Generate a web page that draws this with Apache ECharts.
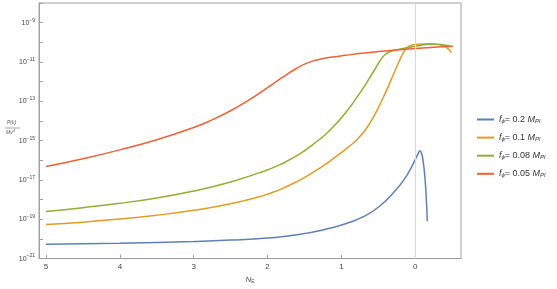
<!DOCTYPE html>
<html><head><meta charset="utf-8">
<script src="https://cdn.jsdelivr.net/npm/echarts@6/dist/echarts.min.js"></script>
<style>html,body{margin:0;padding:0;background:#fff}#c{width:557px;height:289px}</style>
</head><body><div id="c"></div>
<script>
// N_E values and P(k)/M^4 values
const blueN = [5.0, 4.0, 3.0, 2.5, 2.0, 1.6, 1.156, 0.925, 0.709, 0.478, 0.248, 0.14, 0.072, 0.004, -0.043, -0.064, -0.084, -0.104, -0.131, -0.152, -0.163];
const blueP = [5.37e-21, 6.03e-21, 7.41e-21, 8.71e-21, 1.12e-20, 1.62e-20, 3.49e-20, 6.27e-20, 1.32e-19, 4.73e-19, 3.54e-18, 1.2e-17, 3.16e-17, 1.01e-16, 2.34e-16, 3.02e-16, 2.37e-16, 1.12e-16, 1.41e-17, 7.94e-19, 7.94e-20];
const orangeN = [5.0, 4.5, 4.0, 3.5, 3.0, 2.5, 2.06, 1.833, 1.607, 1.386, 1.156, 0.953, 0.85, 0.75, 0.65, 0.56, 0.478, 0.41, 0.343, 0.275, 0.207, 0.16, 0.12, 0.08, 0.004, -0.2, -0.335, -0.425, -0.493];
const orangeP = [5.43e-20, 7.16e-20, 1.035e-19, 1.6e-19, 2.85e-19, 6.1e-19, 1.6e-18, 3.24e-18, 8.04e-18, 2.4e-17, 9.0e-17, 3.42e-16, 6.97e-16, 1.6e-15, 4.79e-15, 1.73e-14, 6.87e-14, 2.4e-13, 8.9e-13, 3.48e-12, 1.32e-11, 2.96e-11, 4.92e-11, 6.49e-11, 7.73e-11, 8.51e-11, 7.5e-11, 5.43e-11, 3.05e-11];
const greenN = [5.0, 4.5, 4.0, 3.5, 3.0, 2.5, 2.06, 1.833, 1.607, 1.386, 1.156, 0.93, 0.705, 0.569, 0.478, 0.411, 0.343, 0.252, -0.019, -0.2, -0.348, -0.493];
const greenP = [2.51e-19, 3.89e-19, 6.46e-19, 1.22e-18, 2.72e-18, 7.94e-18, 2.69e-17, 6.03e-17, 1.66e-16, 6.24e-16, 3.39e-15, 3.02e-14, 4.68e-13, 3.09e-12, 1.12e-11, 2.34e-11, 3.31e-11, 4.17e-11, 6.46e-11, 7.94e-11, 7.67e-11, 6.1e-11];
const redN = [5.0, 4.5, 4.0, 3.5, 3.0, 2.75, 2.5, 2.25, 2.0, 1.8, 1.6, 1.45, 1.3, 1.15, 0.95, 0.7, 0.25, -0.2, -0.51];
const redP = [4.79e-17, 1.2e-16, 3.39e-16, 1.11e-15, 4.68e-15, 1.14e-14, 3.31e-14, 1.17e-13, 4.95e-13, 1.64e-12, 4.95e-12, 9.23e-12, 1.35e-11, 1.72e-11, 2.18e-11, 2.83e-11, 4.11e-11, 5.5e-11, 6.34e-11];
const seriesNames = ['0.2', '0.1', '0.08', '0.05'];
const yTicks = [1e-21,1e-20,1e-19,1e-18,1e-17,1e-16,1e-15,1e-14,1e-13,1e-12,1e-11,1e-10,1e-9,1e-8];
const yLabels = [1e-21,1e-19,1e-17,1e-15,1e-13,1e-11,1e-9];

const colors = ['#5E81B5', '#E19C24', '#8FB032', '#EB6235'];
const zip = (a, b) => a.map((v, i) => [v, b[i]]);
const sets = [[blueN, blueP], [orangeN, orangeP], [greenN, greenP], [redN, redP]];
const FONT = 'Liberation Sans';

const chart = echarts.init(document.getElementById('c'), null, {renderer: 'canvas'});
chart.setOption({
  animation: false,
  backgroundColor: '#fff',
  grid: {left: 39, right: 96, top: 3, bottom: 26, show: true, borderColor: '#a0a0a0', borderWidth: 1},
  xAxis: {
    type: 'value', inverse: true, min: -0.62, max: 5.095, splitNumber: 5,
    name: '{i|N}{s|E}', nameLocation: 'middle', nameGap: 13,
    nameTextStyle: {rich: {i: {fontFamily: FONT, fontStyle: 'italic', fontSize: 8, color: '#555'}, s: {fontFamily: FONT, fontSize: 5, color: '#555', padding: [4, 0, 0, 0]}}},
    axisLine: {show: true, onZero: false, lineStyle: {color: '#a0a0a0'}},
    axisTick: {show: true, inside: true, length: 4, lineStyle: {color: '#a0a0a0'}},
    axisLabel: {showMinLabel: false, showMaxLabel: false, fontFamily: FONT, fontSize: 8, color: '#444', margin: 4},
    splitLine: {show: false}
  },
  yAxis: {
    type: 'log', logBase: 10, min: 1e-21, max: 1e-8,
    axisLine: {show: true, onZero: false, lineStyle: {color: '#a0a0a0'}},
    axisTick: {show: true, inside: true, length: 4, lineStyle: {color: '#a0a0a0'}, customValues: yTicks},
    axisLabel: {
      customValues: yLabels, margin: 4,
      formatter: v => '{b|10}{s|' + '\u2212' + Math.round(-Math.log10(v)) + '}',
      rich: {b: {fontFamily: FONT, fontSize: 7, color: '#444'}, s: {fontFamily: FONT, fontSize: 5, color: '#444', padding: [0, 0, 5, 0]}}
    },
    splitLine: {show: false}
  },
  legend: {
    orient: 'vertical', left: 472, top: 110, itemWidth: 17, itemHeight: 2, itemGap: 8.6, icon: 'rect',
    data: seriesNames,
    formatter: n => '{i|f}{s|\u03d5}{n|= ' + n + ' }{i|M}{s|Pl}',
    textStyle: {
      rich: {
        i: {fontFamily: FONT, fontStyle: 'italic', fontSize: 9, color: '#333'},
        n: {fontFamily: FONT, fontSize: 9, color: '#333'},
        s: {fontFamily: FONT, fontStyle: 'italic', fontSize: 6, color: '#333', padding: [4, 0, 0, 0]}
      }
    }
  },
  graphic: [
    {type: 'text', left: 7, top: 120, style: {text: 'P(k)', fontFamily: FONT, fontStyle: 'italic', fontSize: 5, fill: '#555'}},
    {type: 'line', shape: {x1: 5, y1: 128, x2: 20, y2: 128}, style: {stroke: '#666', lineWidth: 0.6}},
    {type: 'text', left: 6, top: 129, style: {text: '{a|Mv}{b|4}', rich: {a: {fontFamily: FONT, fontStyle: 'italic', fontSize: 5, fill: '#555'}, b: {fontFamily: FONT, fontSize: 4, fill: '#555', padding: [0, 0, 3, 0]}}}}
  ],
  series: sets.map((s, i) => ({
    name: seriesNames[i], type: 'line', data: zip(s[0], s[1]), smooth: 0.5, showSymbol: false,
    lineStyle: {color: colors[i], width: 1.5}, itemStyle: {color: colors[i]},
    markLine: i === 0 ? {silent: true, symbol: 'none', label: {show: false}, lineStyle: {color: '#d8d8d8', width: 1, type: 'solid'}, data: [{xAxis: 0}]} : undefined
  }))
});
</script></body></html>
